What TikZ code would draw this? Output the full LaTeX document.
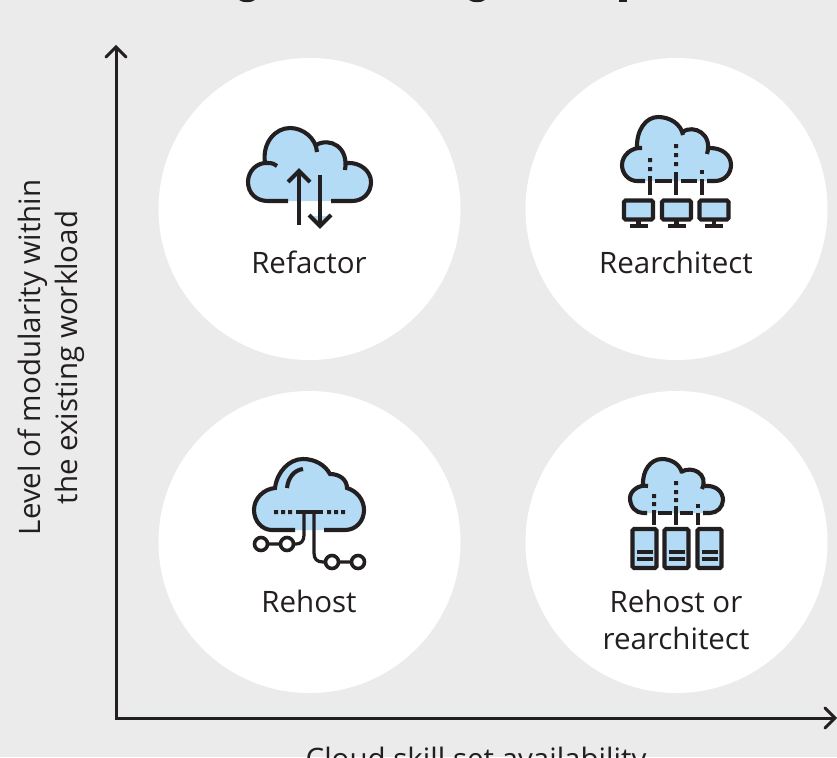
\documentclass[tikz,border=0pt]{standalone}
\usepackage{fontspec}
\setmainfont{Open Sans}
\definecolor{bgc}{HTML}{EBEBEB}
\definecolor{ink}{HTML}{231F20}
\definecolor{sky}{HTML}{B3DBF5}
\tikzset{
  ink line/.style={draw=ink,line width=4.1pt},
  thin line/.style={draw=ink,line width=3.2pt},
  disc/.style={circle,fill=white,minimum size=302pt,inner sep=0pt},
  label text/.style={text=ink,font=\fontsize{29.5}{37}\selectfont,align=center},
  axis line/.style={draw=ink,line width=3pt},
  open head/.style={draw=ink,line width=3pt,line cap=round,line join=miter},
  fillblue/.style={fill=sky,draw=none},
  hole/.style={circle,draw=ink,line width=3.6pt,fill=white,minimum size=13pt,inner sep=0pt},
}
\begin{document}
\begin{tikzpicture}[x=1pt,y=-1pt]
\useasboundingbox (0,0) rectangle (837,757);
\clip (0,0) rectangle (837,757);
\fill[bgc] (0,0) rectangle (837,757);
% clipped title descenders
\fill[ink] (239,0) .. controls (243,3) and (251,3) .. (255,0) -- cycle;
\fill[ink] (469,0) .. controls (473,3) and (481,3) .. (485,0) -- cycle;
\fill[ink] (619,0) rectangle (627,2);
% discs
\node[disc] (d1) at (309.5,209) {};
\node[disc] (d2) at (676.5,209) {};
\node[disc] (d3) at (309.5,542) {};
\node[disc] (d4) at (676.5,542) {};
% axes
\coordinate (o) at (116,718);
\coordinate (yt) at (116,47);
\coordinate (xt) at (835,718);
\draw[axis line] (yt) -- (o) -- (xt);
\draw[open head] (106,57) -- (yt) -- (126,57);
\draw[open head] (825,708) -- (xt) -- (825,728);
% labels
\node[label text] (l1) at (309,262) {Refactor};
\node[label text] (l2) at (676,262) {Rearchitect};
\node[label text] (l3) at (309,601) {Rehost};
\node[label text] (l4) at (676,620) {Rehost or\\rearchitect};
\node[label text,rotate=90] (ly) at (51,357.5) {Level of modularity within\\the existing workload};
\node[label text] (lx) at (476,762) {Cloud skill set availability};
% ---- refactor
\fill[fillblue] (288,201) -- (268,201) .. controls (256,201) and (248,193) .. (248,182) .. controls (248,172) and (256,163) .. (265,163) .. controls (262,143) and (275,128) .. (290,128) .. controls (303,128) and (312,136) .. (316,145) .. controls (330,137) and (347,147) .. (347,163) .. controls (360,162) and (371,171) .. (371,182) .. controls (371,193) and (363,201) .. (352,201) -- cycle;
\fill[fillblue] (311,216) -- (329,216) -- (320,224) -- cycle;
\draw[ink line] (288,201) -- (268,201) .. controls (256,201) and (248,193) .. (248,182) .. controls (248,171) and (257,162) .. (268,163) .. controls (272,163) and (275,164) .. (277,166);
\draw[ink line] (265,163) .. controls (262,143) and (275,128) .. (290,128) .. controls (303,128) and (316,138) .. (317,152);
\draw[ink line] (316,145) .. controls (330,137) and (349,147) .. (345,170);
\draw[ink line] (347,163) .. controls (360,162) and (371,171) .. (371,182) .. controls (371,193) and (363,201) .. (352,201) -- (331,201);
\draw[ink line] (299,225) -- (299,172);
\draw[ink line] (288,182) -- (299,171) -- (310,182);
\draw[ink line] (320,175) -- (320,224);
\draw[ink line] (309,215) -- (320,226) -- (331,215);
% ---- rearchitect
\fill[fillblue] (645,181) -- (637,181) .. controls (629,181) and (622,174) .. (622,165) .. controls (622,156) and (629,148) .. (637,147) .. controls (636,130) and (646,117) .. (658,117) .. controls (670,117) and (679,124) .. (682,132) .. controls (694,124) and (711,131) .. (710,148) .. controls (722,148) and (731,155) .. (731,165) .. controls (731,174) and (724,181) .. (715,181) -- cycle;
\draw[ink line] (645,181) -- (637,181) .. controls (629,181) and (622,174) .. (622,165) .. controls (622,155) and (632,147) .. (642,148);
\draw[ink line] (637,149) .. controls (636,130) and (646,117) .. (658,117) .. controls (670,117) and (681,124) .. (683,135);
\draw[ink line] (682,132) .. controls (694,124) and (713,134) .. (707,154);
\draw[ink line] (710,148) .. controls (722,148) and (731,155) .. (731,165) .. controls (731,174) and (724,181) .. (715,181) -- (707,181);
\draw[ink line] (655,181) -- (672,181) (681,181) -- (697,181);
\draw[ink line] (650,176) -- (650,195) (676,172) -- (676,195) (702,179) -- (702,195);
\fill[ink] (648,158) rectangle (652,162) (648,167) rectangle (652,171);
\fill[ink] (674,144) rectangle (678,148) (674,153) rectangle (678,157) (674,162) rectangle (678,166);
\fill[ink] (700,170) rectangle (704,174);
\foreach \cx in {638.5,676.5,714}{
  \draw[ink line,fill=sky,rounded corners=1.5pt] (\cx-14.5,200.5) rectangle (\cx+14.5,219.5);
  \draw[ink line] (\cx,220) -- (\cx,226);
  \draw[ink line] (\cx-9,226) -- (\cx+9,226);
}
% ---- rehost
\fill[fillblue] (295,530) -- (272,530) .. controls (262,530) and (254,521) .. (254,510) .. controls (254,498) and (264,489) .. (275,488) .. controls (277,472) and (289,459) .. (303,459) .. controls (315,459) and (325,465) .. (330,474) .. controls (340,474) and (347,480) .. (347,488) .. controls (357,491) and (364,500) .. (364,510) .. controls (364,521) and (356,530) .. (345,530) -- cycle;
\draw[ink line] (295,530) -- (272,530) .. controls (262,530) and (254,521) .. (254,510) .. controls (254,498) and (264,489) .. (275,488) .. controls (277,472) and (289,459) .. (303,459) .. controls (315,459) and (325,465) .. (330,474) .. controls (340,474) and (347,480) .. (347,488) .. controls (357,491) and (364,500) .. (364,510) .. controls (364,521) and (356,530) .. (345,530) -- (324,530);
\draw[ink line] (287,488) .. controls (288,478) and (294,470) .. (303,469);
\draw[ink line] (296,512) -- (323,512);
\fill[ink] (274,510) rectangle (278,514) (281,510) rectangle (285,514) (288,510) rectangle (292,514);
\fill[ink] (327,510) rectangle (331,514) (334,510) rectangle (338,514) (341,510) rectangle (345,514);
\draw[thin line] (304,512) -- (304,535) .. controls (304,541) and (301,544) .. (296,544) -- (254,544);
\draw[thin line] (314,512) -- (314,553) .. controls (314,559) and (317,562) .. (323,562) -- (360,562);
\node[hole] (c1) at (261,544) {};
\node[hole] (c2) at (287,544) {};
\node[hole] (c3) at (332,562) {};
\node[hole] (c4) at (358,562) {};
% ---- rehost or rearchitect
\fill[fillblue] (647,513) .. controls (637,513) and (630,507) .. (630,498) .. controls (630,491) and (636,485) .. (643,484) .. controls (642,470) and (651,459) .. (662,459) .. controls (671,459) and (678,464) .. (681,472) .. controls (692,465) and (707,472) .. (705,486) .. controls (716,485) and (723,492) .. (723,500) .. controls (723,507) and (717,513) .. (710,513) -- cycle;
\draw[ink line] (647,513) -- (643,513) .. controls (636,513) and (630,507) .. (630,498) .. controls (630,491) and (639,484) .. (648,486);
\draw[ink line] (643,486) .. controls (642,470) and (651,459) .. (662,459) .. controls (671,459) and (680,464) .. (682,473);
\draw[ink line] (681,472) .. controls (692,465) and (709,474) .. (702,489);
\draw[ink line] (705,486) .. controls (716,485) and (723,492) .. (723,500) .. controls (723,507) and (717,513) .. (710,513) -- (703,513);
\draw[ink line] (658,513) -- (672,513) (680,513) -- (693,513);
\draw[ink line] (654,510) -- (654,525) (676,506) -- (676,525) (698,513) -- (698,525);
\fill[ink] (652,494) rectangle (656,498) (652,502) rectangle (656,506);
\fill[ink] (674,481) rectangle (678,485) (674,490) rectangle (678,494) (674,498) rectangle (678,502);
\fill[ink] (696,504) rectangle (700,508);
\foreach \cx in {644.5,676.5,709.5}{
  \draw[ink line,fill=sky,rounded corners=1.5pt] (\cx-12,529) rectangle (\cx+12,568);
  \draw[ink line] (\cx-8,552) -- (\cx+8,552) (\cx-8,559) -- (\cx+8,559);
}
\end{tikzpicture}
\end{document}
